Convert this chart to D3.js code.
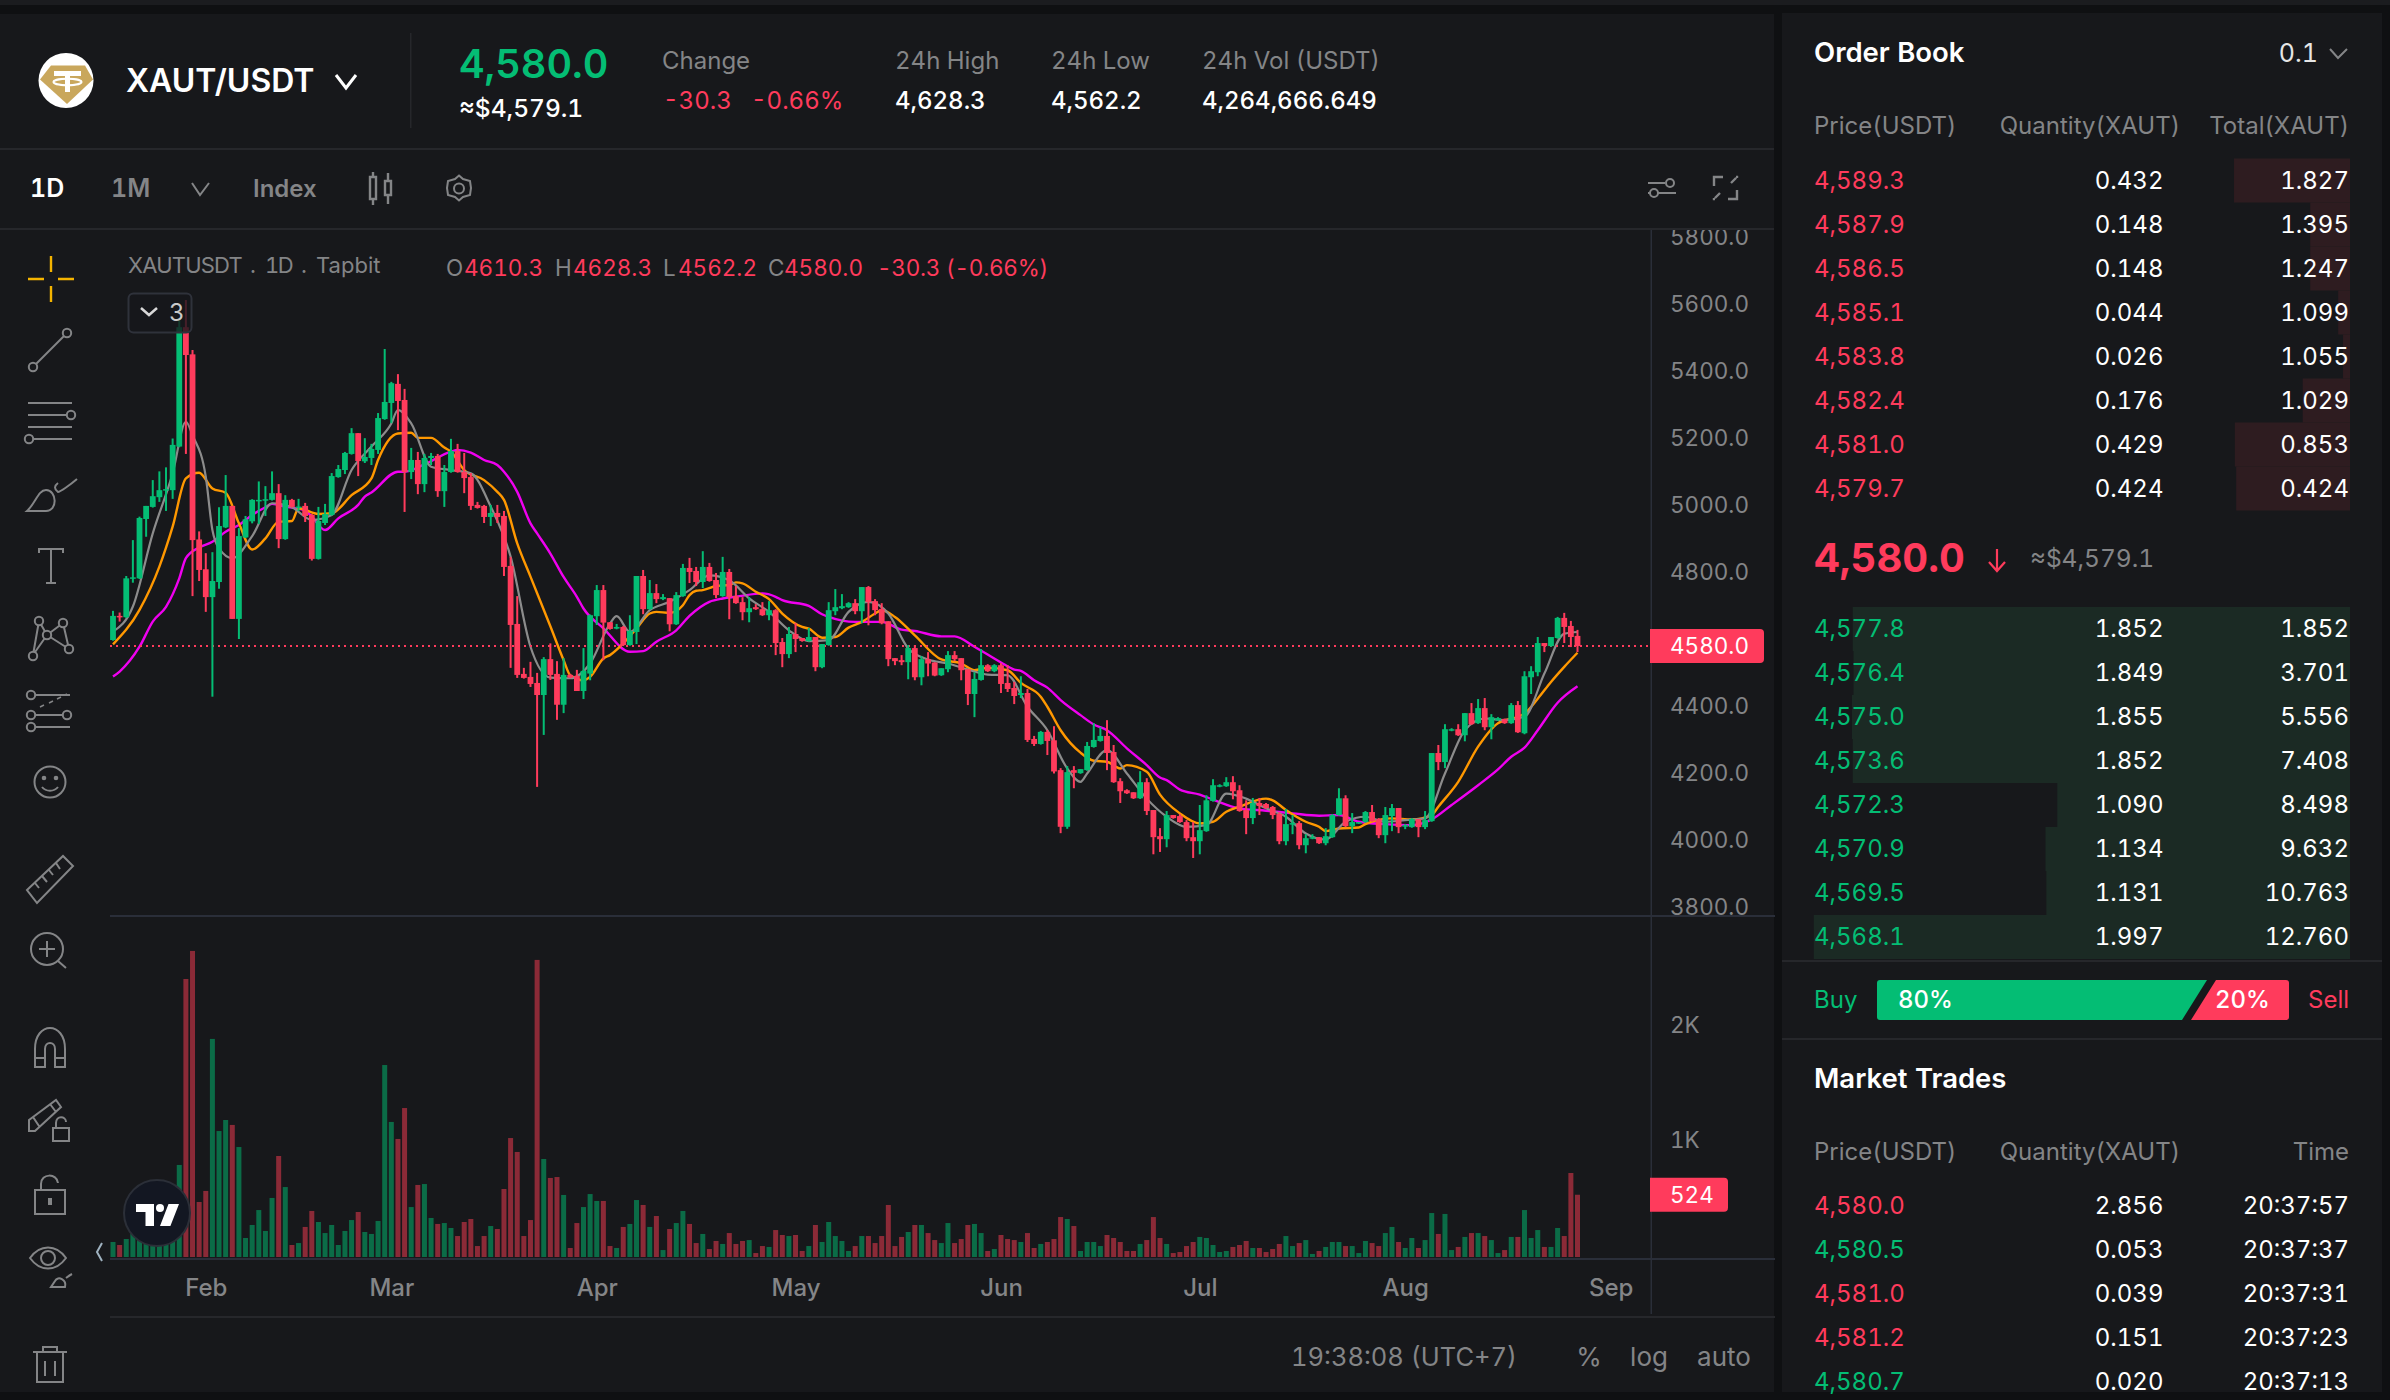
<!DOCTYPE html>
<html><head><meta charset="utf-8">
<style>html,body{margin:0;padding:0;background:#0f1012;overflow:hidden}svg{display:block}text{font-family:Inter,"Noto Sans",sans-serif;font-variant-numeric:tabular-nums;font-feature-settings:"tnum" 1}</style>
<script src="https://cdn.jsdelivr.net/npm/d3@7/dist/d3.min.js"></script>
</head><body><svg id="c" width="2390" height="1400"></svg>
<script>
const opens=[4598,4670,4666,4781,4782,4959,4995,5024,5044,5045,
5175,5531,5450,4898,4809,4726,4771,4934,4998,4661,
4904,4952,5013,5015,5016,5036,4899,5016,4993,4998,
4971,4840,4947,4971,5084,5105,5153,5215,5131,5141,
5165,5257,5305,5362,5314,5099,5135,5063,5141,5147,
5042,5099,5162,5099,5084,5001,4998,4965,4977,4968,
4819,4646,4497,4488,4470,4434,4541,4497,4405,4494,
4491,4446,4498,4669,4747,4651,4632,4637,4583,4622,
4789,4690,4738,4720,4723,4645,4729,4813,4804,4771,
4816,4777,4729,4801,4729,4711,4681,4696,4690,4672,
4687,4592,4556,4616,4604,4595,4607,4517,4583,4684,
4693,4696,4708,4684,4756,4714,4690,4654,4544,4538,
4532,4574,4487,4541,4531,4493,4511,4553,4544,4511,
4437,4479,4523,4505,4523,4470,4455,4434,4440,4303,
4288,4324,4299,4210,4041,4210,4201,4210,4279,4297,
4312,4264,4177,4150,4144,4126,4174,4091,4013,4004,
4076,4073,4055,4010,3998,4028,4118,4162,4162,4174,
4150,4091,4067,4112,4109,4100,4079,3998,4049,4052,
3986,4007,4010,3992,4010,4076,4126,4043,4052,4055,
4085,4064,4016,4073,4097,4043,4040,4064,4040,4058,
4261,4234,4329,4332,4314,4380,4350,4395,4338,4359,
4362,4350,4404,4320,4487,4502,4589,4580,4604,4664,
4640,4610.3];
const closes=[4670,4666,4782,4785,4962,4998,5027,5045,5048,5180,
5531,5448,4896,4807,4726,4774,4938,4998,4661,4908,
4958,5016,5016,5018,5036,4899,5016,4995,4996,4968,
4840,4953,4974,5087,5108,5156,5215,5132,5144,5168,
5260,5308,5364,5311,5099,5135,5063,5141,5147,5042,
5099,5162,5099,5081,4998,4992,4965,4977,4965,4816,
4643,4494,4485,4467,4434,4541,4494,4405,4494,4486,
4446,4506,4672,4747,4650,4631,4637,4583,4625,4789,
4690,4738,4720,4726,4645,4732,4813,4801,4771,4816,
4774,4732,4801,4726,4708,4681,4693,4690,4672,4687,
4589,4556,4616,4601,4595,4607,4517,4586,4687,4696,
4699,4708,4684,4756,4711,4687,4648,4541,4535,4532,
4574,4487,4541,4528,4492,4514,4553,4541,4508,4437,
4482,4523,4505,4523,4467,4452,4431,4440,4300,4288,
4324,4297,4206,4041,4204,4202,4213,4282,4300,4312,
4261,4174,4147,4141,4126,4174,4088,4010,4004,4076,
4067,4055,4007,3998,4031,4120,4165,4165,4174,4147,
4088,4067,4112,4103,4097,4076,3998,4049,4052,3986,
4007,4010,3992,4013,4076,4126,4043,4055,4055,4085,
4058,4016,4076,4097,4040,4046,4064,4040,4061,4261,
4234,4332,4332,4314,4380,4347,4395,4338,4368,4365,
4350,4404,4323,4490,4505,4589,4580,4607,4664,4637,
4607,4580];
const highs=[4685,4680,4789,4896,4966,4998,5075,5101,5113,5199,
5558,5612,5463,4922,4857,4860,4994,5090,4998,4932,
4968,5018,5071,5057,5101,5063,5030,5019,5019,5007,
4974,4995,5004,5096,5120,5159,5230,5215,5200,5183,
5275,5466,5368,5391,5347,5171,5159,5153,5156,5153,
5120,5198,5183,5156,5096,5010,5001,5001,5001,4983,
4846,4729,4515,4533,4500,4547,4588,4535,4544,4497,
4509,4574,4674,4762,4762,4651,4646,4640,4672,4789,
4807,4777,4765,4735,4723,4741,4825,4843,4816,4863,
4828,4798,4846,4810,4759,4726,4726,4705,4711,4714,
4690,4604,4637,4649,4604,4634,4607,4586,4711,4750,
4735,4711,4720,4756,4759,4720,4708,4654,4544,4553,
4583,4583,4550,4562,4532,4514,4565,4565,4544,4511,
4502,4571,4526,4526,4529,4523,4473,4490,4452,4312,
4327,4330,4341,4216,4222,4222,4213,4294,4350,4338,
4359,4285,4186,4153,4144,4207,4186,4091,4037,4088,
4076,4079,4061,4055,4106,4135,4183,4168,4189,4192,
4165,4120,4127,4127,4112,4103,4085,4094,4076,4058,
4019,4019,4010,4037,4079,4156,4135,4082,4055,4088,
4106,4067,4100,4109,4097,4049,4067,4064,4088,4261,
4285,4347,4335,4347,4380,4410,4422,4425,4377,4368,
4364,4410,4416,4505,4520,4607,4589,4607,4667,4679,
4655,4628.3];
const lows=[4596,4653,4664,4769,4780,4906,4993,5010,4983,5019,
5173,5153,4729,4774,4682,4429,4751,4932,4661,4601,
4902,4946,4944,4968,5014,4872,4897,4993,4983,4950,
4835,4838,4941,4969,5082,5093,5151,5087,5126,5120,
5153,5255,5245,5224,4980,5078,5033,5039,5120,5025,
4995,5097,5097,5036,4986,4990,4947,4938,4947,4789,
4515,4485,4483,4458,4160,4315,4479,4360,4380,4484,
4446,4422,4478,4643,4538,4629,4630,4580,4581,4586,
4675,4688,4708,4717,4624,4643,4727,4768,4759,4753,
4772,4723,4727,4660,4706,4657,4651,4688,4670,4657,
4553,4517,4544,4562,4593,4593,4505,4514,4581,4672,
4690,4694,4675,4648,4642,4672,4645,4520,4523,4523,
4481,4478,4463,4490,4490,4491,4502,4535,4478,4404,
4368,4477,4503,4502,4440,4443,4407,4425,4294,4282,
4286,4255,4200,4022,4035,4156,4199,4208,4277,4295,
4210,4172,4112,4139,4124,4124,4076,3959,3966,3980,
4065,4053,3998,3948,3959,4026,4116,4159,4160,4123,
4086,4019,4049,4076,4095,4064,3989,3986,4019,3974,
3962,4004,3990,3986,4008,4074,4040,4022,4050,4053,
4056,4007,3992,4028,4022,4034,4038,4010,4034,4056,
4210,4216,4326,4312,4296,4345,4348,4329,4302,4357,
4348,4348,4321,4317,4437,4490,4562,4578,4602,4589,
4577,4562.2];
const volumes=[113,87,139,188,159,130,116,116,130,174,
783,2400,2644,461,557,1879,1078,1174,1131,939,
148,261,391,209,496,861,591,87,104,244,
383,287,191,261,87,209,304,374,200,183,
296,1652,1157,1009,1278,417,609,617,322,270,
278,235,165,287,313,78,165,252,226,574,
1017,896,165,304,2566,835,670,678,522,61,
278,417,530,470,470,78,61,244,270,478,
435,244,339,43,226,278,383,270,104,183,
52,122,96,191,96,122,130,17,78,70,
217,174,165,174,35,78,261,113,287,165,
122,35,78,165,165,104,165,435,78,157,
200,261,261,191,130,104,278,104,139,261,
270,191,35,52,174,139,130,113,191,61,
96,113,139,330,313,252,35,113,113,78,
174,148,113,35,35,96,130,330,148,96,
17,26,78,113,157,148,87,26,35,70,
87,122,61,61,26,52,96,165,78,104,
130,9,35,70,113,113,78,78,17,122,
104,78,191,244,113,61,148,61,130,365,
183,357,43,70,157,191,191,165,130,17,
43,157,157,391,148,217,70,70,235,165,
713,524];
const ma1Idx=[0,3,6,9,11,12,14,15,16,18,21,24,27,30,33,36,39,42,43,45,48,51,54,57,60,63,66,69,72,75,76,78,81,84,87,90,93,96,99,102,105,108,111,114,117,120,123,126,129,132,135,138,141,144,146,147,150,153,156,159,162,165,168,171,174,177,180,183,186,189,192,195,198,201,204,207,210,213,216,219,221];
const ma1Val=[4623,4698,4916,5095,5249,5209,5085,4926,4871,4842,4908,5006,4994,4956,4971,5105,5175,5244,5284,5244,5115,5105,5095,4996,4847,4578,4486,4484,4528,4647,4669,4622,4687,4712,4747,4791,4776,4722,4682,4627,4595,4598,4682,4712,4677,4573,4540,4528,4510,4495,4493,4399,4329,4215,4175,4200,4270,4200,4125,4071,4041,4046,4140,4125,4096,4071,4021,4003,4056,4071,4056,4061,4066,4200,4329,4364,4359,4369,4498,4617,4622];
const ma2Idx=[0,4,7,9,11,13,15,17,19,21,23,25,27,28,31,33,36,39,40,43,45,46,48,50,51,53,56,58,59,61,63,66,68,69,71,72,74,75,77,79,81,82,84,86,87,88,89,91,93,94,95,97,99,101,104,105,107,109,111,113,115,116,118,121,125,128,130,132,135,137,140,141,143,146,148,150,152,153,156,158,161,164,166,168,170,174,175,177,180,182,183,185,188,189,193,196,199,200,203,206,209,212,213,215,217,219,221];
const ma2Val=[4585,4688,4817,4936,5080,5097,5050,5037,4946,4868,4901,4951,4953,4991,4974,4976,5030,5080,5135,5214,5216,5201,5201,5172,5160,5105,5075,5040,5016,4886,4787,4639,4538,4493,4478,4488,4543,4553,4588,4632,4677,4682,4679,4702,4732,4745,4747,4759,4762,4770,4767,4742,4720,4677,4637,4632,4605,4607,4635,4652,4677,4687,4667,4612,4540,4528,4508,4515,4508,4470,4429,4399,4329,4262,4238,4235,4215,4225,4205,4137,4081,4051,4056,4086,4101,4125,4120,4091,4056,4041,4028,4036,4039,4049,4066,4063,4076,4101,4175,4280,4350,4369,4379,4423,4473,4518,4560];
const ma3Idx=[0,1,4,6,8,10,11,13,15,17,19,21,23,24,26,29,30,32,34,37,38,39,43,44,47,51,52,54,56,58,59,61,63,64,66,68,70,71,74,78,80,82,85,87,90,92,94,98,100,101,105,107,108,112,116,119,121,125,127,130,134,136,137,139,141,143,146,148,150,153,156,158,159,161,164,166,170,174,178,182,185,188,192,196,199,202,206,209,211,213,215,218,221];
const ma3Val=[4489,4504,4578,4653,4697,4782,4842,4874,4891,4921,4941,4971,4994,5004,4996,4984,4966,4926,4961,5001,5026,5038,5100,5100,5122,5160,5165,5157,5135,5120,5100,5040,4946,4916,4856,4786,4727,4692,4633,4563,4565,4593,4627,4670,4712,4722,4727,4737,4727,4717,4700,4675,4667,4652,4652,4629,4625,4609,4609,4578,4531,4510,4506,4478,4456,4419,4374,4346,4329,4275,4225,4188,4180,4152,4137,4122,4096,4089,4081,4074,4076,4056,4049,4046,4063,4106,4165,4212,4250,4277,4329,4411,4460];
const priceTicks=[5800,5600,5400,5200,5000,4800,4400,4200,4000,3800];
const volumeTicks=[2000,1000];
const monthLabels=["Feb","Mar","Apr","May","Jun","Jul","Aug","Sep"];
const monthIdx=[14,42,73,103,134,164,195,226];
const askPrices=["4,589.3","4,587.9","4,586.5","4,585.1","4,583.8","4,582.4","4,581.0","4,579.7"];
const askQty=[0.432,0.148,0.148,0.044,0.026,0.176,0.429,0.424];
const askTotal=["1.827","1.395","1.247","1.099","1.055","1.029","0.853","0.424"];
const bidPrices=["4,577.8","4,576.4","4,575.0","4,573.6","4,572.3","4,570.9","4,569.5","4,568.1"];
const bidQty=[1.852,1.849,1.855,1.852,1.090,1.134,1.131,1.997];
const bidTotal=["1.852","3.701","5.556","7.408","8.498","9.632","10.763","12.760"];
const tradePrices=["4,580.0","4,580.5","4,581.0","4,581.2","4,580.7"];
const tradeQty=["2.856","0.053","0.039","0.151","0.020"];
const tradeTimes=["20:37:57","20:37:37","20:37:31","20:37:23","20:37:13"];
const tradeSide=["sell","buy","sell","sell","buy"];

const GREEN="#04bd74",RED="#ff3b5c",GRAY="#848587",PANEL="#17181b",LINE="#26272b",AXLINE="#2a2e39";
const VG="#0b6c47",VR="#8b2a37";
const svg=d3.select("#c");
const R=(p,x,y,w,h,f)=>p.append("rect").attr("x",x).attr("y",y).attr("width",w).attr("height",h).attr("fill",f);
const T=(p,x,y,s,size,fill,o={})=>p.append("text").attr("x",x).attr("y",y).text(s).attr("font-size",size).attr("fill",fill)
  .attr("font-weight",o.w||400).attr("text-anchor",o.a||"start").attr("letter-spacing",o.ls||null);

/* frame */
R(svg,0,0,2390,1400,"#0f1012");
R(svg,0,0,2390,5,"#1b1c1f");
R(svg,0,14,1774,1378,PANEL);
R(svg,1782,13,600,1379,PANEL);
R(svg,0,148,1774,2,LINE);R(svg,0,228,1774,2,LINE);
R(svg,410,33,1.5,95,LINE);

/* header */
const ic=svg.append("g").attr("fill","none").attr("stroke",GRAY).attr("stroke-width",2);
svg.append("circle").attr("cx",66).attr("cy",80.5).attr("r",27.5).attr("fill","#fff");
svg.append("path").attr("d","M51 65.5H85L93 79.5L67 104L40 79.5Z").attr("fill","#c9a75c");
svg.append("path").attr("d","M54 71H81V76H70V92H65V76H54Z").attr("fill","#fff");
svg.append("ellipse").attr("cx",67.5).attr("cy",82).attr("rx",14).attr("ry",3.2).attr("fill","none").attr("stroke","#fff").attr("stroke-width",2);
T(svg,126,92,"XAUT/USDT",32,"#fff",{w:600});
svg.append("path").attr("d","M336 75L346 88L356 75").attr("fill","none").attr("stroke","#fff").attr("stroke-width",3);
T(svg,459,78,"4,580.0",39.6,GREEN,{w:600});
T(svg,459,117,"≈$4,579.1",24.5,"#fff",{w:500});
T(svg,662,68.5,"Change",24,GRAY);
T(svg,663,109,"-30.3",24,RED);
T(svg,751,109,"-0.66%",24,RED);
[[895,"24h High","4,628.3"],[1051,"24h Low","4,562.2"],[1202,"24h Vol (USDT)","4,264,666.649"]].forEach(d=>{
  T(svg,d[0],68.5,d[1],24,GRAY);T(svg,d[0],109,d[2],24,"#fff",{w:500});});

/* toolbar */
T(svg,30,197,"1D",25,"#fff",{w:600});
T(svg,111,197,"1M",25,GRAY,{w:600});
ic.append("path").attr("d","M192 183L200 195L209 183");
T(svg,253,197,"Index",24,GRAY,{w:600});
ic.append("path").attr("d","M370 177h6v22h-6zM373 172v5M373 199v6M385 181h6v14h-6zM388 173v8M388 195v9").attr("stroke-width",2.4);
ic.append("path").attr("d","M459 175.5l4 3.5l7 2l1 7l-1 7l-7 2l-4 3.5l-4-3.5l-7-2l-1-7l1-7l7-2z");
ic.append("circle").attr("cx",459).attr("cy",188.5).attr("r",5);
ic.append("path").attr("d","M1648 183H1665M1648 193H1676");
ic.append("circle").attr("cx",1670).attr("cy",183).attr("r",4);
ic.append("circle").attr("cx",1654).attr("cy",193).attr("r",4).attr("fill",PANEL);
ic.append("path").attr("d","M1714 186V177H1723M1736 177h1v1M1737 190V199H1728M1714 198v1h1M1720 193L1715 198M1731 183L1736 178").attr("stroke-width",2.4);

/* scales */
const x=d3.scaleLinear().domain([0,221]).range([113,1577.5]);
const y=d3.scaleLinear().domain([3800,5800]).range([907.6,237]);
const vy=d3.scaleLinear().domain([0,2000]).range([1255,1025]);
const idx=d3.range(opens.length);
const defs=svg.append("defs");
defs.append("clipPath").attr("id","pp").append("rect").attr("x",110).attr("y",230).attr("width",1540).attr("height",685);
defs.append("clipPath").attr("id","ax").append("rect").attr("x",1652).attr("y",230).attr("width",122).attr("height",685);

/* pane lines */
R(svg,110,915,1665,2,AXLINE);
R(svg,110,1258,1665,2,AXLINE);
R(svg,110,1316,1665,2,LINE);
R(svg,1650.5,230,1.5,1084,AXLINE);

const pane=svg.append("g").attr("clip-path","url(#pp)");
/* MA lines */
const ln=d3.line().x(d=>x(d[0])).y(d=>y(d[1])).curve(d3.curveMonotoneX);
[[ma3Idx,ma3Val,"#f000f0",2.4],[ma2Idx,ma2Val,"#ff9800",2.4],[ma1Idx,ma1Val,"#8c8c8c",2.2]].forEach(m=>{
  pane.append("path").attr("d",ln(m[0].map((k,j)=>[k,m[1][j]]))).attr("fill","none").attr("stroke",m[2]).attr("stroke-width",m[3]).attr("stroke-linejoin","round");
});
/* last price */
pane.append("line").attr("x1",110).attr("x2",1650).attr("y1",y(4580)).attr("y2",y(4580)).attr("stroke",RED).attr("stroke-width",2).attr("stroke-dasharray","2 4");
/* candles */
const col=i=>closes[i]>=opens[i]?GREEN:RED;
pane.append("g").selectAll("rect").data(idx).join("rect")
  .attr("x",i=>x(i)-1).attr("width",2).attr("y",i=>y(highs[i])).attr("height",i=>y(lows[i])-y(highs[i])).attr("fill",col);
pane.append("g").selectAll("rect").data(idx).join("rect")
  .attr("x",i=>x(i)-2.9).attr("width",5.8).attr("y",i=>y(Math.max(opens[i],closes[i])))
  .attr("height",i=>Math.max(1.5,Math.abs(y(opens[i])-y(closes[i])))).attr("fill",col);

/* volume */
svg.append("g").selectAll("rect").data(idx).join("rect")
  .attr("x",i=>x(i)-2.5).attr("width",5).attr("y",i=>vy(volumes[i])).attr("height",i=>1257-vy(volumes[i]))
  .attr("fill",i=>closes[i]>=opens[i]?VG:VR);

/* axes */
const axP=svg.append("g").attr("clip-path","url(#ax)").append("g").attr("transform","translate(1650,0)")
  .call(d3.axisRight(y).tickValues(priceTicks).tickSize(0).tickPadding(20).tickFormat(d=>d.toFixed(1)));
const axV=svg.append("g").attr("transform","translate(1650,0)")
  .call(d3.axisRight(vy).tickValues(volumeTicks).tickSize(0).tickPadding(20).tickFormat(d=>(d/1000)+"K"));
const axX=svg.append("g").attr("transform","translate(0,1278.5)")
  .call(d3.axisBottom(x).tickValues(monthIdx).tickSize(0).tickPadding(0).tickFormat((d,i)=>monthLabels[i]));
[axP,axV,axX].forEach(a=>{a.select(".domain").remove();a.selectAll("text").attr("fill",GRAY).attr("font-size",22.5).attr("font-family","Inter");});
axX.selectAll("text").attr("font-weight",500).attr("font-size",24);

/* price tags */
const tag=(w,cy,s)=>{svg.append("path").attr("d",`M1650 ${cy-17}H${1650+w-4}a4 4 0 0 1 4 4V${cy+13}a4 4 0 0 1 -4 4H1650Z`).attr("fill",RED);
  T(svg,1670,cy+8,s,22.5,"#fff");};
tag(114,y(4580),"4580.0");
tag(78,vy(524),"524");

/* legend */
T(svg,128,272.5,"XAUTUSDT",22,GRAY,{ls:-0.8});
T(svg,250,272.5,".",22,GRAY);T(svg,265,272.5,"1D",22,GRAY,{ls:-1.5});T(svg,301,272.5,".",22,GRAY);T(svg,316,272.5,"Tapbit",22,GRAY);
[[446,"O",464,"4610.3"],[555,"H",573,"4628.3"],[663,"L",678,"4562.2"],[768,"C",784,"4580.0"]].forEach(d=>{
  T(svg,d[0],276,d[1],22.5,GRAY);T(svg,d[2],276,d[3],22.5,RED);});
T(svg,877,276,"-30.3 (-0.66%)",22.5,RED,{ls:-0.25});
svg.append("rect").attr("x",128.5).attr("y",293.5).attr("width",63).attr("height",39).attr("rx",5).attr("fill",PANEL).attr("fill-opacity",0.8).attr("stroke","#2f323b").attr("stroke-width",2);
svg.append("path").attr("d","M141 308L149 315L157 308").attr("fill","none").attr("stroke","#d8d8d8").attr("stroke-width",2.5);
T(svg,169,321,"3",24,"#c9c9c9");

/* left tools */
const t=svg.append("g").attr("fill","none").attr("stroke",GRAY).attr("stroke-width",2);
svg.append("path").attr("d","M28 279H44M58 279H74M51 256V272M51 286V302").attr("stroke","#f5b400").attr("stroke-width",2.4);
t.append("circle").attr("cx",33).attr("cy",367).attr("r",4.2);t.append("circle").attr("cx",67).attr("cy",333).attr("r",4.2);t.append("path").attr("d","M36 364L64 336");
t.append("path").attr("d","M28 403H72M28 415H66M28 427H72M34 439H72");t.append("circle").attr("cx",71).attr("cy",415).attr("r",4.2);t.append("circle").attr("cx",29).attr("cy",439).attr("r",4.2);
t.append("path").attr("d","M27 511H46C58 511 57 490 46 490C38 490 36 503 27 511ZM58 483C54 486 54 489 58 492C60 492 70 485 77 479");
t.append("path").attr("d","M39 553V549H63V553M51 549V583M46 583H56");
t.append("path").attr("d","M33 655L39 621M39 621L47 635M33 655L47 635M47 635L63 623M47 635L69 649M63 623L69 649");
[[33,656],[39,621],[47,635],[63,623],[69,649]].forEach(d=>t.append("circle").attr("cx",d[0]).attr("cy",d[1]).attr("r",4.2).attr("fill",PANEL));
t.append("path").attr("d","M36 695H70M36 715H62M36 727H70");[[31,695],[31,715],[67,715],[31,727]].forEach(d=>t.append("circle").attr("cx",d[0]).attr("cy",d[1]).attr("r",4.2));
t.append("path").attr("d","M40 707L44 705M49 703L53 701M57 699L61 697M65 695L67 694").attr("stroke-width",1.5);
t.append("circle").attr("cx",50).attr("cy",782).attr("r",15.5);
svg.append("circle").attr("cx",44).attr("cy",778).attr("r",2.3).attr("fill",GRAY);svg.append("circle").attr("cx",56).attr("cy",778).attr("r",2.3).attr("fill",GRAY);
t.append("path").attr("d","M42 787C46 792 54 792 58 787");
t.append("path").attr("d","M27 890L63 856L73 866L37 903ZM35 883L39 888M42 876L47 882M49 870L53 875M56 863L60 869");
t.append("circle").attr("cx",47).attr("cy",949).attr("r",16);t.append("path").attr("d","M58 961L66 968M47 941V957M39 949H55");
t.append("path").attr("d","M35 1067V1049C35 1021 65 1021 65 1049V1067H55V1049C55 1041 45 1041 45 1049V1067ZM35 1058H45M55 1058H65");
t.append("path").attr("d","M29 1131L29 1120L56 1100L61 1107L35 1131ZM33 1117L39 1126M50 1104L56 1112");
t.append("path").attr("d","M53 1128H69V1141H53ZM56 1128V1123C56 1115 66 1116 66 1122");
t.append("path").attr("d","M35 1190H65V1214H35ZM41 1190V1184C41 1173 57 1173 58 1183");
svg.append("rect").attr("x",48).attr("y",1198).attr("width",4).attr("height",7).attr("fill",GRAY);
t.append("path").attr("d","M30 1258C40 1244 56 1244 66 1258C56 1272 40 1272 30 1258Z");t.append("circle").attr("cx",48).attr("cy",1258).attr("r",7);
t.append("path").attr("d","M51 1287H65C67 1280 58 1275 55 1281ZM66 1278C70 1275 72 1274 72 1274");
t.append("path").attr("d","M33 1352H67M37 1352V1382H63V1352M43 1352V1347H57V1352M45 1361V1376M55 1361V1376");
svg.append("path").attr("d","M102 1243L97 1252L102 1261").attr("fill","none").attr("stroke","#9fb2c0").attr("stroke-width",2);

/* TV logo */
svg.append("circle").attr("cx",157).attr("cy",1213).attr("r",33).attr("fill","#131722").attr("stroke","#2b2f38").attr("stroke-width",2);
svg.append("path").attr("d","M136 1204H154V1226H145.5V1212H136Z M168.5 1204H179L170.4 1226H160Z").attr("fill","#fff");
svg.append("circle").attr("cx",160).attr("cy",1208).attr("r",4).attr("fill","#fff");

/* footer */
T(svg,1291,1366,"19:38:08 (UTC+7)",25.5,GRAY);
T(svg,1589,1366,"%",26,GRAY,{a:"middle"});
T(svg,1649,1366,"log",26,GRAY,{a:"middle"});
T(svg,1724,1366,"auto",26,GRAY,{a:"middle"});

/* order book */
const L=1814,RR=2349,QR=2163.5;
T(svg,L,62,"Order Book",27.5,"#fff",{w:600});
T(svg,2318,62,"0.1",25,"#e6e6e6",{a:"end"});
svg.append("path").attr("d","M2330 49L2338 58L2347 49").attr("fill","none").attr("stroke",GRAY).attr("stroke-width",2);
const heads=(yy,last)=>{T(svg,L,yy,"Price(USDT)",24,GRAY);T(svg,2180,yy,"Quantity(XAUT)",24,GRAY,{a:"end"});T(svg,RR,yy,last,24,GRAY,{a:"end"});};
heads(134,"Total(XAUT)");
const depth=d3.scaleLinear().domain([0,2]).range([0,537]);
const ob=(prices,qty,tot,top,base,bar,col)=>{
  svg.append("g").selectAll("rect").data(qty).join("rect").attr("x",d=>2350-depth(d)).attr("width",d=>depth(d))
    .attr("y",(d,i)=>top+i*44).attr("height",44).attr("fill",bar);
  prices.forEach((p,i)=>{
    T(svg,L,base+i*44,p,24,col);
    T(svg,QR,base+i*44,qty[i].toFixed(3),24,"#fff",{a:"end"});
    T(svg,RR,base+i*44,tot[i],24,"#fff",{a:"end"});
  });
};
ob(askPrices,askQty,askTotal,158.5,189,"#2e1c20",RED);
T(svg,L,572,"4,580.0",40,RED,{w:700});
svg.append("path").attr("d","M1997 549V570M1989 562L1997 571L2005 562").attr("fill","none").attr("stroke",RED).attr("stroke-width",2.2);
T(svg,2030,567,"≈$4,579.1",24.5,GRAY);
ob(bidPrices,bidQty,bidTotal,607,637,"#1b2a24",GREEN);
R(svg,1782,960,600,2,LINE);
T(svg,L,1008,"Buy",24,GREEN);
svg.append("path").attr("d","M1880 980H2207L2182 1020H1880a3 3 0 0 1 -3 -3V983a3 3 0 0 1 3 -3Z").attr("fill",GREEN);
svg.append("path").attr("d","M2216 980H2286a3 3 0 0 1 3 3V1017a3 3 0 0 1 -3 3H2191Z").attr("fill",RED);
T(svg,1898,1008,"80%",24,"#fff",{w:500});
T(svg,2215,1008,"20%",24,"#fff",{w:500});
T(svg,RR,1008,"Sell",24,RED,{a:"end"});
R(svg,1782,1038,600,2,LINE);
T(svg,L,1088,"Market Trades",27.5,"#fff",{w:600});
heads(1160,"Time");
tradePrices.forEach((p,i)=>{
  const yy=1214+i*44;
  T(svg,L,yy,p,24,tradeSide[i]==="sell"?RED:GREEN);
  T(svg,QR,yy,tradeQty[i],24,"#fff",{a:"end"});
  T(svg,RR,yy,tradeTimes[i],24,"#fff",{a:"end"});
});
</script></body></html>
